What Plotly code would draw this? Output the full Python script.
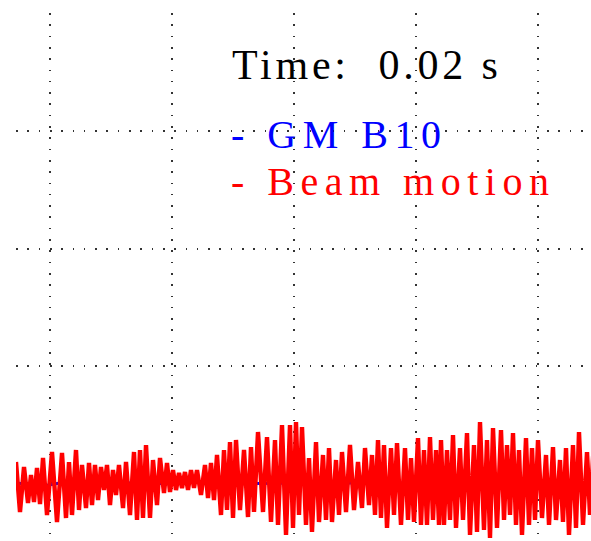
import plotly.graph_objects as go

# Beam motion trace: sample position (time axis units) and amplitude
beam_t = [0, 4, 8, 12, 15, 18, 21, 24, 27, 31, 36, 41, 46, 50, 53, 56, 60, 63, 66, 70,
          73, 76, 79, 82, 85, 88, 91, 94, 97, 100, 103, 107, 110, 114, 118, 121, 124, 127, 130, 134,
          137, 141, 144, 148, 151, 154, 157, 160, 163, 166, 169, 172, 175, 178, 181, 185, 189, 192, 195, 198,
          201, 205, 208, 211, 214, 217, 220, 224, 228, 232, 235, 238, 242, 247, 251, 255, 259, 262, 266, 270,
          274, 277, 280, 283, 286, 290, 293, 296, 300, 303, 307, 310, 313, 316, 320, 323, 326, 330, 334, 338,
          342, 346, 349, 353, 356, 359, 362, 365, 368, 371, 375, 378, 381, 385, 389, 392, 395, 398, 402, 405,
          408, 411, 414, 417, 420, 423, 425, 428, 431, 434, 437, 440, 444, 447, 451, 454, 458, 461, 464, 468,
          471, 474, 477, 481, 485, 488, 491, 494, 497, 500, 503, 506, 510, 513, 516, 519, 522, 526, 530, 533,
          537, 540, 544, 547, 550, 553, 557, 560, 563, 567, 571, 574, 578]
beam_y = [21, -29, 16, -20, 8, -19, 15, -21, 25, -32, 31, -39, 30, -35, 21, -32, 33, -27, 18, -25,
          20, -22, 18, -17, 16, -7, 18, -22, 13, -12, 18, -25, 21, -32, 31, -37, 33, -35, 38, -35,
          23, -22, 25, -10, 20, -9, 13, -7, 10, -5, 11, -7, 13, -5, 13, -12, 18, -15, 20, -17,
          28, -32, 33, -27, 41, -35, 43, -27, 33, -34, 36, -29, 51, -29, 46, -39, 43, -42, 58, -52,
          58, -45, 61, -32, 56, -42, 25, -49, 41, -39, 28, -37, 35, -39, 23, -32, 31, -29, 38, -27,
          21, -25, 35, -22, 28, -32, 43, -35, 38, -45, 35, -32, 40, -42, 35, -37, 25, -39, 45, -42,
          33, -42, 46, -37, 33, -42, 43, -42, 33, -37, 48, -45, 35, -37, 50, -52, 38, -49, 61, -47,
          43, -55, 55, -45, 53, -37, 38, -32, 50, -42, 33, -52, 45, -42, 35, -37, 43, -35, 28, -42,
          36, -37, 23, -39, 35, -52, 38, -45, 51, -42, 31, -32, 43]

# GM B10 trace (nearly flat)
gm_t = [0, 27, 44, 134, 156, 167, 181, 194, 284, 575]
gm_y = [0, -3, 0, 0, -1, 4, 2, -1, 0, 0]

time_label = "Time: 0.02 s"
legend_labels = ["GM B10", "Beam motion"]
legend_colors = ["#0000FF", "#FF0000"]

fig = go.Figure()
fig.add_trace(go.Scatter(x=gm_t, y=gm_y, mode="lines",
                         line=dict(color=legend_colors[0], width=3), name=legend_labels[0]))
fig.add_trace(go.Scatter(x=beam_t, y=beam_y, mode="lines",
                         line=dict(color=legend_colors[1], width=4.4),
                         name=legend_labels[1]))

grid = dict(showgrid=True, gridcolor="#333333", gridwidth=1.6, griddash="1.6px,9.7px",
            zeroline=False, showticklabels=False, ticks="", showline=False)
fig.update_xaxes(range=[0, 575], tick0=34, dtick=122, **grid)
fig.update_yaxes(range=[-58, 470], tick0=0, dtick=117.25, **grid)

font_family = "Liberation Serif"
fig.add_annotation(x=214, y=418, xref="x", yref="y", xanchor="left", yanchor="middle",
                   showarrow=False,
                   text="<span style='letter-spacing:3.8px'>" + time_label.replace(": ", ":\u00a0 ") + "</span>",
                   font=dict(family=font_family, size=42, color="black"))
for i, (lab, col) in enumerate(zip(legend_labels, legend_colors)):
    fig.add_annotation(x=213, y=348.5 - 47 * i, xref="x", yref="y", xanchor="left", yanchor="middle",
                       showarrow=False,
                       text="<span style='letter-spacing:6.5px'>- " + lab + "</span>",
                       font=dict(family=font_family, size=40, color=col))

fig.update_layout(width=591, height=541, margin=dict(l=16, r=0, t=13, b=0),
                  paper_bgcolor="white", plot_bgcolor="white", showlegend=False)
fig.write_html("out.html")
